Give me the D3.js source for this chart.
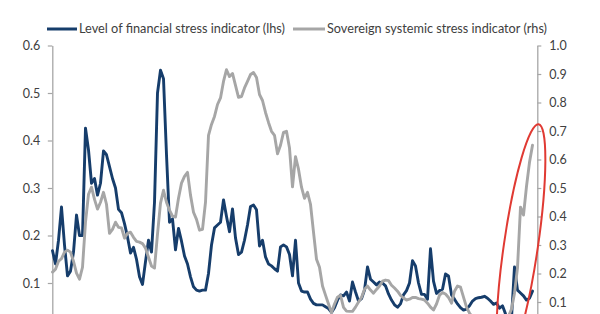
<!DOCTYPE html>
<html><head><meta charset="utf-8">
<script src="https://cdn.jsdelivr.net/npm/d3@7"></script>
<style>html,body{margin:0;padding:0;background:#fff;overflow:hidden}</style>
</head><body>
<svg id="chart" width="600" height="314"></svg>
<script>
// Level of financial stress indicator (left axis)
const financialStress = [
0.168,0.14,0.19,0.26,0.18,0.115,0.125,0.165,0.243,0.20,
0.20,0.426,0.38,0.31,0.32,0.285,0.31,0.378,0.37,0.345,
0.32,0.30,0.255,0.248,0.225,0.197,0.163,0.175,0.15,0.113,
0.097,0.145,0.19,0.165,0.27,0.50,0.548,0.53,0.37,0.228,
0.235,0.17,0.215,0.188,0.157,0.14,0.113,0.092,0.085,0.083,
0.085,0.085,0.12,0.18,0.216,0.222,0.228,0.275,0.24,0.208,
0.256,0.195,0.16,0.165,0.19,0.222,0.261,0.264,0.254,0.178,
0.19,0.155,0.14,0.136,0.13,0.125,0.176,0.18,0.176,0.16,
0.115,0.19,0.10,0.083,0.081,0.081,0.066,0.057,0.054,0.054,
0.054,0.05,0.046,0.038,0.048,0.064,0.075,0.073,0.081,0.062,
0.102,0.081,0.062,0.067,0.085,0.134,0.108,0.102,0.096,0.102,
0.10,0.094,0.077,0.064,0.054,0.049,0.056,0.075,0.084,0.10,
0.147,0.136,0.10,0.076,0.076,0.066,0.172,0.104,0.078,0.084,
0.087,0.119,0.115,0.075,0.066,0.056,0.048,0.043,0.045,0.052,
0.062,0.067,0.069,0.07,0.072,0.068,0.062,0.055,0.058,0.047,
0.052,0.035,0.022,0.026,0.134,0.085,0.079,0.073,0.064,0.068,
0.083];
// Sovereign systemic stress indicator (right axis)
const sovereignStress = [
0.205,0.215,0.243,0.252,0.275,0.282,0.275,0.243,0.201,0.18,
0.222,0.38,0.478,0.503,0.46,0.426,0.45,0.485,0.443,0.341,
0.355,0.38,0.362,0.36,0.324,0.341,0.345,0.327,0.313,0.31,
0.305,0.289,0.257,0.226,0.219,0.338,0.447,0.492,0.45,0.422,
0.401,0.398,0.464,0.517,0.541,0.555,0.475,0.415,0.39,0.352,
0.355,0.45,0.685,0.723,0.751,0.793,0.816,0.874,0.915,0.891,
0.902,0.86,0.818,0.821,0.851,0.874,0.898,0.905,0.888,0.828,
0.807,0.765,0.73,0.699,0.685,0.62,0.65,0.695,0.699,0.64,
0.504,0.61,0.566,0.503,0.464,0.485,0.443,0.345,0.25,0.222,
0.156,0.124,0.093,0.063,0.093,0.117,0.124,0.081,0.068,0.067,
0.067,0.082,0.1,0.116,0.145,0.156,0.142,0.131,0.144,0.156,
0.173,0.177,0.175,0.159,0.149,0.138,0.123,0.114,0.107,0.11,
0.116,0.116,0.112,0.11,0.107,0.096,0.082,0.072,0.093,0.124,
0.133,0.128,0.116,0.096,0.138,0.156,0.152,0.117,0.082,0.061,
0.047,0.045,0.043,0.04,0.042,0.045,0.043,0.04,0.038,0.04,
0.042,0.045,0.05,0.075,0.131,0.22,0.433,0.405,0.506,0.59,
0.65];
const leftTicks = [0.1, 0.2, 0.3, 0.4, 0.5, 0.6];
const rightTicks = [0.1, 0.2, 0.3, 0.4, 0.5, 0.6, 0.7, 0.8, 0.9, 1.0];
const seriesNames = ["Level of financial stress indicator (lhs)", "Sovereign systemic stress indicator (rhs)"];
const seriesColors = ["#163d6b", "#a6a6a6"];
const periods = financialStress.map((d, i) => i);

const svg = d3.select("#chart");
const font = "Lato, 'Open Sans', sans-serif";
const textColor = "#404040";

const x = d3.scaleLinear().domain([0, periods.length - 1]).range([52.5, 532.5]);
const yL = d3.scaleLinear().domain([0, 0.6]).range([330.5, 45.5]);
const yR = d3.scaleLinear().domain([0, 1.0]).range([330.5, 45.5]);

// Axes
const axL = svg.append("g").attr("transform", "translate(52.3,0)")
  .call(d3.axisLeft(yL).tickValues(leftTicks).tickFormat(d3.format(".1f")).tickSizeInner(4.5).tickSizeOuter(0).tickPadding(7.5));
const axR = svg.append("g").attr("transform", "translate(537.3,0)")
  .call(d3.axisRight(yR).tickValues(rightTicks).tickFormat(d3.format(".1f")).tickSizeInner(4).tickSizeOuter(0).tickPadding(8));
[axL, axR].forEach(g => {
  g.select(".domain").attr("stroke", "#a6a6a6").attr("stroke-width", 1.3);
  g.selectAll(".tick line").attr("stroke", "#a6a6a6").attr("stroke-width", 1.2);
  g.selectAll(".tick text").attr("fill", textColor).attr("font-family", font).attr("font-size", 12.5);
});

// Lines
const lineL = d3.line().x((d, i) => x(periods[i])).y(d => yL(d)).curve(d3.curveLinear);
const lineR = d3.line().x((d, i) => x(periods[i])).y(d => yR(d)).curve(d3.curveLinear);

svg.append("path").datum(financialStress).attr("d", lineL)
  .attr("fill", "none").attr("stroke", seriesColors[0]).attr("stroke-width", 2.9)
  .attr("stroke-linejoin", "round").attr("stroke-linecap", "round");
svg.append("path").datum(sovereignStress).attr("d", lineR)
  .attr("fill", "none").attr("stroke", seriesColors[1]).attr("stroke-width", 2.9)
  .attr("stroke-linejoin", "round").attr("stroke-linecap", "round");

// Red highlight ellipse
svg.append("ellipse")
  .attr("cx", 0).attr("cy", 0).attr("rx", 17).attr("ry", 122)
  .attr("transform", "translate(521,245) rotate(8.3)")
  .attr("fill", "none").attr("stroke", "#e03a33").attr("stroke-width", 2);

// Legend
const legend = [
  {name: seriesNames[0], color: seriesColors[0], x1: 47, x2: 77, tx: 79, tw: 206},
  {name: seriesNames[1], color: seriesColors[1], x1: 293, x2: 325, tx: 327, tw: 220}
];
const lg = svg.append("g");
legend.forEach(l => {
  lg.append("line").attr("x1", l.x1).attr("x2", l.x2).attr("y1", 29).attr("y2", 29)
    .attr("stroke", l.color).attr("stroke-width", 3);
  lg.append("text").attr("x", l.tx).attr("y", 33.3).text(l.name)
    .attr("fill", textColor).attr("font-family", font).attr("font-size", 12.5)
    .attr("textLength", l.tw).attr("lengthAdjust", "spacingAndGlyphs");
});
</script>
</body></html>
